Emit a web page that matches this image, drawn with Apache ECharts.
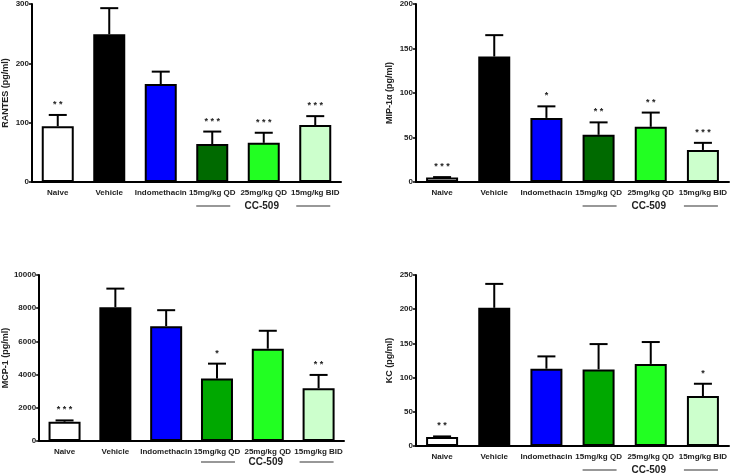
<!DOCTYPE html>
<html>
<head>
<meta charset="utf-8">
<script src="https://cdn.jsdelivr.net/npm/echarts@6/dist/echarts.min.js"></script>
<style>
html,body{margin:0;padding:0;background:#fff;}
#c{width:732px;height:474px;}
</style>
</head>
<body>
<div id="c"></div>
<script>
// ---- data ----
const categories = ['Naive', 'Vehicle', 'Indomethacin', '15mg/kg QD', '25mg/kg QD', '15mg/kg BID'];

const rantesMean = [94, 249, 165, 64, 66, 96];
const rantesErr  = [19, 44, 21, 21, 17, 15];
const rantesStars = ['**', '', '', '***', '***', '***'];

const mipMean = [5, 141, 72, 53, 62, 36];
const mipErr  = [0.5, 24, 13, 14, 16, 8];
const mipStars = ['***', '', '*', '**', '**', '***'];

const mcpMean = [1160, 8060, 6920, 3760, 5560, 3180];
const mcpErr  = [80, 1120, 960, 900, 1080, 800];
const mcpStars = ['***', '', '', '*', '', '**'];

const kcMean = [13, 202, 113, 112, 120, 73];
const kcErr  = [1, 35, 18, 37, 32, 18];
const kcStars = ['**', '', '', '', '', '*'];

const yNames = ['RANTES (pg/ml)', 'MIP-1α (pg/ml)', 'MCP-1 (pg/ml)', 'KC (pg/ml)'];
const yMax = [300, 200, 10000, 250];
const yInterval = [100, 50, 2000, 50];
const groupLabel = 'CC-509';

// ---- styling ----
const FONT = 'Liberation Sans, Arial, sans-serif';
const colorsTop = ['#ffffff', '#000000', '#0000ff', '#006a00', '#22ff22', '#ccffcc'];
const colorsBot = ['#ffffff', '#000000', '#0000ff', '#00a800', '#22ff22', '#ccffcc'];

const panels = [
  {mean: rantesMean, err: rantesErr, stars: rantesStars, colors: colorsTop,
   grid: {left: 30, top: 4, width: 311, height: 178}, nameGap: 22, ccOff: 24},
  {mean: mipMean, err: mipErr, stars: mipStars, colors: colorsTop,
   grid: {left: 416, top: 4, width: 313, height: 178}, nameGap: 22, ccOff: 24},
  {mean: mcpMean, err: mcpErr, stars: mcpStars, colors: colorsBot,
   grid: {left: 36, top: 275, width: 308, height: 166}, nameGap: 29, ccOff: 21},
  {mean: kcMean, err: kcErr, stars: kcStars, colors: colorsBot,
   grid: {left: 416, top: 275, width: 313, height: 171}, nameGap: 22, ccOff: 24}
];

const chart = echarts.init(document.getElementById('c'), null, {renderer: 'canvas'});

const grids = [], xAxes = [], yAxes = [], series = [];
panels.forEach((p, i) => {
  grids.push(Object.assign({containLabel: false}, p.grid));
  xAxes.push({
    type: 'category', gridIndex: i, data: categories,
    axisLine: {lineStyle: {color: '#000', width: 2}},
    axisTick: {alignWithLabel: true, length: 3, lineStyle: {color: '#000', width: 1.5}},
    axisLabel: {interval: 0, color: '#222', fontFamily: FONT, fontWeight: 'bold', fontSize: 8, margin: 7}
  });
  yAxes.push({
    type: 'value', gridIndex: i, min: 0, max: yMax[i], interval: yInterval[i],
    name: yNames[i], nameLocation: 'middle', nameGap: p.nameGap, nameRotate: 90,
    nameTextStyle: {color: '#222', fontFamily: FONT, fontWeight: 'bold', fontSize: 9},
    axisLine: {show: true, lineStyle: {color: '#000', width: 2}},
    axisTick: {show: true, length: 3, lineStyle: {color: '#000', width: 1.5}},
    axisLabel: {color: '#222', fontFamily: FONT, fontWeight: 'bold', fontSize: 8, margin: 3,
      formatter: v => String(v)},
    splitLine: {show: false}
  });
  series.push({
    type: 'bar', xAxisIndex: i, yAxisIndex: i, barWidth: 32,
    data: p.mean.map((v, k) => ({value: v, itemStyle: {color: p.colors[k]}})),
    itemStyle: {borderColor: '#000', borderWidth: 2},
    z: 2
  });
  series.push({
    type: 'custom', xAxisIndex: i, yAxisIndex: i, z: 3,
    data: p.mean.map((v, k) => [k, v, p.err[k]]),
    renderItem: (params, api) => {
      const k = api.value(0), m = api.value(1), e = api.value(2);
      const p0 = api.coord([k, m]);
      const p1 = api.coord([k, m + e]);
      const children = [
        {type: 'line', shape: {x1: p0[0], y1: p0[1], x2: p1[0], y2: p1[1]}, style: {stroke: '#000', lineWidth: 2}},
        {type: 'line', shape: {x1: p1[0] - 9, y1: p1[1], x2: p1[0] + 9, y2: p1[1]}, style: {stroke: '#000', lineWidth: 2}}
      ];
      const s = p.stars[params.dataIndex];
      if (s) {
        children.push({type: 'text', style: {
          text: s.split('').join(' '), x: p1[0], y: p1[1] - 6,
          textAlign: 'center', textVerticalAlign: 'bottom',
          fill: '#222', font: 'bold 9px ' + FONT
        }});
      }
      return {type: 'group', children: children};
    }
  });
});

chart.setOption({
  backgroundColor: '#fff',
  animation: false,
  grid: grids, xAxis: xAxes, yAxis: yAxes, series: series
});

// CC-509 group annotation under the last three categories
const graphics = [];
panels.forEach((p, i) => {
  const a = chart.convertToPixel({xAxisIndex: i, yAxisIndex: i}, [3, 0]);
  const b = chart.convertToPixel({xAxisIndex: i, yAxisIndex: i}, [4, 0]);
  const c = chart.convertToPixel({xAxisIndex: i, yAxisIndex: i}, [5, 0]);
  const y = a[1] + p.ccOff;
  graphics.push({type: 'line', shape: {x1: a[0] - 16, y1: y, x2: a[0] + 18, y2: y}, style: {stroke: '#333', lineWidth: 1.2}});
  graphics.push({type: 'line', shape: {x1: c[0] - 19, y1: y, x2: c[0] + 15, y2: y}, style: {stroke: '#333', lineWidth: 1.2}});
  graphics.push({type: 'text', style: {text: groupLabel, x: b[0] - 2, y: y,
    textAlign: 'center', textVerticalAlign: 'middle', fill: '#222', font: 'bold 10px ' + FONT}});
});
chart.setOption({graphic: graphics});
</script>
</body>
</html>
